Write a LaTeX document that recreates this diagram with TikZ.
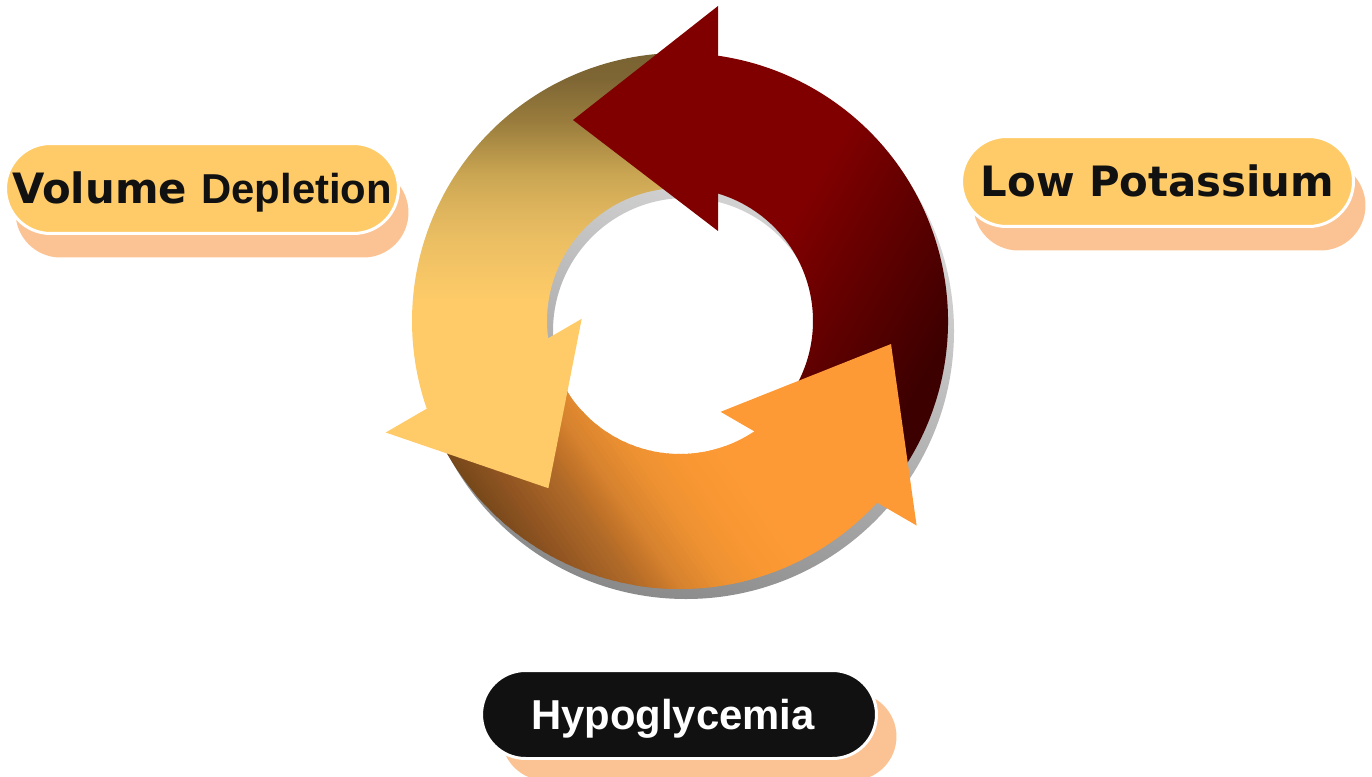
\documentclass[tikz,border=0pt]{standalone}
\usepackage{fontspec}
\usetikzlibrary{shapes.misc}
\newfontfamily\verd{DejaVu Sans}
\newfontfamily\ari{Liberation Sans}
\definecolor{boxy}{HTML}{FECB68}
\definecolor{shor}{HTML}{FBC393}
\definecolor{ink}{HTML}{111111}
\definecolor{redh}{HTML}{800000}
\definecolor{rdk}{HTML}{3C0000}
\definecolor{yelh}{HTML}{FECB68}
\definecolor{yone}{HTML}{ECBF63}
\definecolor{ytwo}{HTML}{DCB35C}
\definecolor{ythree}{HTML}{C9A552}
\definecolor{yfour}{HTML}{9A7D3D}
\definecolor{yfive}{HTML}{7E6634}
\definecolor{yol}{HTML}{7A6332}
\definecolor{orh}{HTML}{FD9A35}
\definecolor{odk}{HTML}{6A4118}
\definecolor{oa}{HTML}{744719}
\definecolor{ob}{HTML}{8E5321}
\definecolor{oc}{HTML}{B06A28}
\definecolor{od}{HTML}{C07228}
\definecolor{oe}{HTML}{D5812E}
\definecolor{of}{HTML}{EF9232}
\definecolor{og}{HTML}{F99833}
\definecolor{shlight}{HTML}{E8E8E8}
\definecolor{shdark}{HTML}{8A8A8A}
\pgfdeclareverticalshading{yelsh}{100bp}{color(0bp)=(yelh); color(41bp)=(yelh); color(49bp)=(yone); color(54bp)=(ytwo); color(58.5bp)=(ythree); color(65.5bp)=(yfour); color(71.5bp)=(yfive); color(75bp)=(yol); color(100bp)=(yol)}
\pgfdeclareverticalshading{redsh}{100bp}{color(0bp)=(rdk); color(31bp)=(rdk); color(61bp)=(redh); color(100bp)=(redh)}
\begin{document}
\begin{tikzpicture}[x=0.02cm,y=0.02cm,
  lbox/.style={shape=rounded rectangle, draw=white, line width=0.06cm, inner sep=0pt,
    text height=17pt, text depth=0pt, font=\bfseries\fontsize{23.8pt}{28pt}\selectfont},
  lshadow/.style={shape=rounded rectangle, fill=shor, inner sep=0pt}]
\useasboundingbox (0,0) rectangle (1372,-777);
% label shadows
\node[lshadow, minimum width=7.86cm, minimum height=1.8cm] (vdsh) at (212,-212.5) {};
\node[lshadow, minimum width=7.84cm, minimum height=1.8cm] (lpsh) at (1169.5,-205.5) {};
\node[lshadow, minimum width=7.9cm, minimum height=1.76cm] (hysh) at (699,-736.5) {};
% labels
\node[lbox, fill=boxy, text=ink, minimum width=7.86cm, minimum height=1.8cm] (vd) at (202,-188.5) {\verd Volume \ari Depletion};
\node[lbox, fill=boxy, text=ink, minimum width=7.84cm, minimum height=1.8cm] (lp) at (1157.5,-181.5) {\verd Low Potassium};
\node[lbox, fill=ink, text=white, minimum width=7.9cm, minimum height=1.76cm] (hy) at (679,-714.5) {\ari Hypoglycemia\kern0.24cm};
% cycle
\begin{scope}[shift={(680,-321)}]
  \shade[top color=shlight, bottom color=shdark, shading angle=-20, even odd rule] (6,-10) circle[radius=268] (6,-10) circle[radius=133];
  \shade[shading=yelsh] (90:268) arc[start angle=90, end angle=201, radius=268] -- (188.5:133) arc[start angle=188.5, end angle=90, radius=133] -- cycle;
  \begin{scope}
    \clip (205:268) arc[start angle=205, end angle=319, radius=268] -- (305:133) arc[start angle=305, end angle=205, radius=133] -- cycle;
    \begin{scope}[rotate=35]
      \foreach \pa/\pb/\ca/\cb in {-400/-270/odk/oa, -270/-238/oa/ob, -238/-189/ob/oc, -189/-174/oc/od, -174/-153/od/oe, -153/-111/oe/of, -111/-70/of/og, -70/-37/og/orh}{
        \foreach \k in {0,...,9}{
          \pgfmathsetmacro\pp{\pa+\k*(\pb-\pa)/10}
          \pgfmathsetmacro\pq{\pa+(\k+1)*(\pb-\pa)/10+1.5}
          \pgfmathtruncatemacro\mx{95-10*\k}
          \fill[\ca!\mx!\cb] (\pp,-400) rectangle (\pq,400);
        }
      }
      \fill[orh] (-37,-400) rectangle (400,400);
    \end{scope}
  \end{scope}
  \shade[shading=redsh, shading angle=60] (-35:268) arc[start angle=-35, end angle=82.5, radius=268] -- (74.7:133) arc[start angle=74.7, end angle=-35, radius=133] -- cycle;
  \fill[redh] (38,315) -- (-107,201) -- (38,90) -- cycle;
  \fill[yelh] (-98.3,2.2) -- (-131.6,-167.2) -- (-294.3,-111.5) -- cycle;
  \fill[orh] (40.6,-90.8) -- (211,-23) -- (236.6,-204.5) -- cycle;
\end{scope}
\end{tikzpicture}
\end{document}
